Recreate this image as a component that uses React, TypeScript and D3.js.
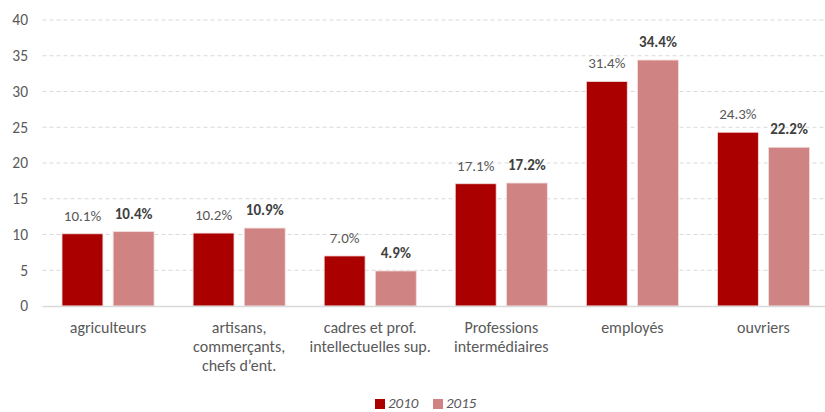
import { useEffect, useRef } from "react";
import * as d3 from "d3";

const categories = [
  ["agriculteurs"],
  ["artisans,", "commerçants,", "chefs d’ent."],
  ["cadres et prof.", "intellectuelles sup."],
  ["Professions", "intermédiaires"],
  ["employés"],
  ["ouvriers"],
];
const series = ["2010", "2015"];
const values2010 = [10.1, 10.2, 7.0, 17.1, 31.4, 24.3];
const values2015 = [10.4, 10.9, 4.9, 17.2, 34.4, 22.2];
const yTicks = [0, 5, 10, 15, 20, 25, 30, 35, 40];
const colors = ["#ab0000", "#d08383"];

const FONT = "Carlito, Lato, 'Liberation Sans', sans-serif";

export default function App() {
  const svgRef = useRef<SVGSVGElement | null>(null);

  useEffect(() => {
    if (!svgRef.current) return;
    const width = 825;
    const height = 412;
    const svg = d3.select(svgRef.current);
    svg.selectAll("*").remove();

    const left = 42.5;
    const right = 829;
    const top = 20;
    const bottom = 306;

    const x = d3
      .scaleBand<number>()
      .domain(d3.range(categories.length))
      .range([left, right]);
    const y = d3.scaleLinear().domain([0, 40]).range([bottom, top]);
    const inner = d3
      .scaleBand<string>()
      .domain(series)
      .range([19.5, x.bandwidth() - 19.5])
      .paddingInner(0.2);

    // gridlines
    svg
      .append("g")
      .selectAll("line")
      .data(yTicks.filter((t) => t > 0))
      .join("line")
      .attr("x1", left)
      .attr("x2", right)
      .attr("y1", (d) => y(d))
      .attr("y2", (d) => y(d))
      .attr("stroke", "#d9d9d9")
      .attr("stroke-dasharray", "4,3");

    // y tick labels
    svg
      .append("g")
      .selectAll("text")
      .data(yTicks)
      .join("text")
      .attr("x", 28)
      .attr("y", (d) => y(d))
      .attr("dy", "0.35em")
      .attr("text-anchor", "end")
      .attr("font-family", FONT)
      .attr("font-size", 15.5)
      .attr("fill", "#595959")
      .text((d) => d);

    const rows = categories.map((_, i) => ({
      i,
      vals: [values2010[i], values2015[i]],
    }));

    const groups = svg
      .append("g")
      .selectAll("g")
      .data(rows)
      .join("g")
      .attr("transform", (d) => `translate(${x(d.i)},0)`);

    groups
      .selectAll("rect")
      .data((d) => d.vals.map((v, k) => ({ v, k })))
      .join("rect")
      .attr("x", (d) => inner(series[d.k])!)
      .attr("width", inner.bandwidth())
      .attr("y", (d) => y(d.v))
      .attr("height", (d) => y(0) - y(d.v))
      .attr("fill", (d) => colors[d.k])
      .attr("stroke", "#f3dede")
      .attr("stroke-width", 0.8);

    groups
      .selectAll("text.lbl")
      .data((d) => d.vals.map((v, k) => ({ v, k })))
      .join("text")
      .attr("class", "lbl")
      .attr("x", (d) => inner(series[d.k])! + inner.bandwidth() / 2)
      .attr("y", (d) => y(d.v) - 13)
      .attr("text-anchor", "middle")
      .attr("font-family", FONT)
      .attr("font-size", 15)
      .attr("font-weight", (d) => (d.k === 1 ? 700 : 400))
      .attr("fill", (d) => (d.k === 1 ? "#404040" : "#595959"))
      .text((d) => d.v.toFixed(1) + "%");

    // axis line
    svg
      .append("line")
      .attr("x1", left)
      .attr("x2", right)
      .attr("y1", bottom + 0.5)
      .attr("y2", bottom + 0.5)
      .attr("stroke", "#d9d9d9")
      .attr("stroke-width", 1.5);

    // category labels
    const cat = svg
      .append("g")
      .selectAll("text")
      .data(categories.map((lines, i) => ({ lines, i })))
      .join("text")
      .attr("x", (d) => x(d.i)! + x.bandwidth() / 2)
      .attr("y", 333)
      .attr("text-anchor", "middle")
      .attr("font-family", FONT)
      .attr("font-size", 16)
      .attr("fill", "#595959");
    cat
      .selectAll("tspan")
      .data((d) => d.lines.map((l) => ({ l, cx: x(d.i)! + x.bandwidth() / 2 })))
      .join("tspan")
      .attr("x", (d) => d.cx)
      .attr("dy", (_, j) => (j === 0 ? 0 : 19))
      .text((d) => d.l);

    // legend
    const legend = svg
      .append("g")
      .selectAll("g")
      .data(series)
      .join("g")
      .attr("transform", (_, i) => `translate(${375 + i * 58},0)`);
    legend
      .append("rect")
      .attr("y", 399)
      .attr("width", 10)
      .attr("height", 10)
      .attr("fill", (_, i) => colors[i]);
    legend
      .append("text")
      .attr("x", 13)
      .attr("y", 408)
      .attr("font-family", FONT)
      .attr("font-size", 15)
      .attr("font-style", "italic")
      .attr("fill", "#595959")
      .text((d) => d);

    svg.attr("width", width).attr("height", height);
  }, []);

  return (
    <svg
      ref={svgRef}
      width={825}
      height={412}
      style={{ position: "absolute", left: 0, top: 0 }}
    />
  );
}
